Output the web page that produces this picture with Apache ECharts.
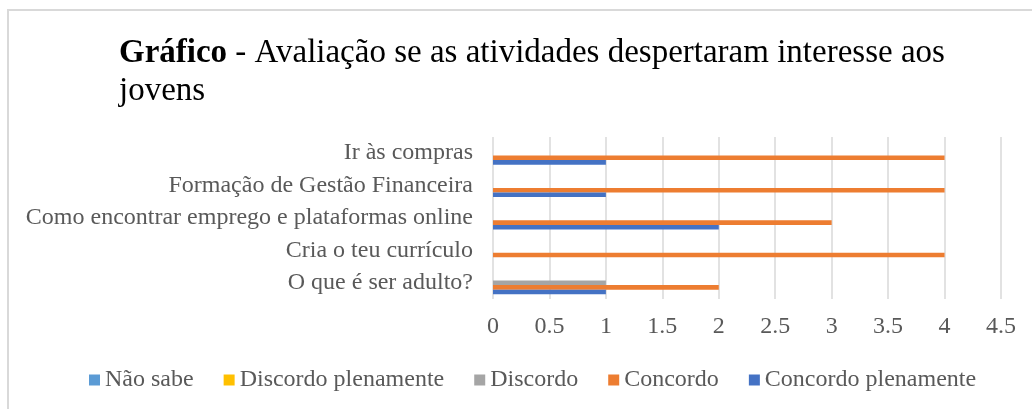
<!DOCTYPE html>
<html>
<head>
<meta charset="utf-8">
<script src="https://cdn.jsdelivr.net/npm/echarts@6/dist/echarts.min.js"></script>
<style>
  html, body { margin: 0; padding: 0; background: #fff; }
  #main { width: 1032px; height: 409px; }
</style>
</head>
<body>
<div id="main"></div>
<script>
// categorias (de baixo para cima, como no eixo)
const categorias = ['O que é ser adulto?', 'Cria o teu currículo', 'Como encontrar emprego e plataformas online', 'Formação de Gestão Financeira', 'Ir às compras']
const series_nomes = ['Não sabe', 'Discordo plenamente', 'Discordo', 'Concordo', 'Concordo plenamente']
const naoSabe = [0, 0, 0, 0, 0]
const discordoPlenamente = [0, 0, 0, 0, 0]
const discordo = [1, 0, 0, 0, 0]
const concordo = [2, 4, 3, 4, 4]
const concordoPlenamente = [1, 0, 2, 1, 1]
const xTicks = [0, 0.5, 1, 1.5, 2, 2.5, 3, 3.5, 4, 4.5]

const cores = ['#5B9BD5', '#FFC000', '#A5A5A5', '#ED7D31', '#4472C4']
const valores = [naoSabe, discordoPlenamente, discordo, concordo, concordoPlenamente]
const fonte = '"Liberation Serif", "Times New Roman", serif'

const chart = echarts.init(document.getElementById('main'))

chart.setOption({
  animation: false,
  color: cores,
  graphic: [
    { // moldura do gráfico
      type: 'rect',
      shape: { x: 8, y: 10, width: 1100, height: 500 },
      style: { fill: 'none', stroke: '#d9d9d9', lineWidth: 2 },
      silent: true
    }
  ],
  title: {
    left: 114,
    top: 29,
    text: '{b|Gráfico} - Avaliação se as atividades despertaram interesse aos\njovens',
    textStyle: {
      fontFamily: fonte,
      fontSize: 33,
      fontWeight: 'normal',
      color: '#000',
      lineHeight: 38,
      rich: {
        b: { fontFamily: fonte, fontSize: 33, fontWeight: 'bold', color: '#000', lineHeight: 38 }
      }
    }
  },
  legend: {
    data: series_nomes,
    top: 363,
    left: 84,
    icon: 'rect',
    itemWidth: 11,
    itemHeight: 11,
    itemGap: 30,
    textStyle: { fontFamily: fonte, fontSize: 24, color: '#595959' }
  },
  grid: {
    left: 493,
    right: 31,
    top: 137,
    bottom: 110,
    containLabel: false
  },
  xAxis: {
    type: 'value',
    min: xTicks[0],
    max: xTicks[xTicks.length - 1],
    interval: 0.5,
    axisLine: { show: false },
    axisTick: { show: false },
    axisLabel: {
      fontFamily: fonte, fontSize: 24, color: '#595959', margin: 16,
      formatter: v => String(v)
    },
    splitLine: { show: true, lineStyle: { color: '#d9d9d9', width: 1.5 } }
  },
  yAxis: {
    type: 'category',
    data: categorias,
    axisLine: { show: false },
    axisTick: { show: false },
    axisLabel: { fontFamily: fonte, fontSize: 24, color: '#595959', margin: 20 }
  },
  series: series_nomes.map((nome, i) => ({
    name: nome,
    type: 'bar',
    data: valores[i],
    barWidth: 4.6,
    barGap: '0%'
  }))
})
</script>
</body>
</html>
